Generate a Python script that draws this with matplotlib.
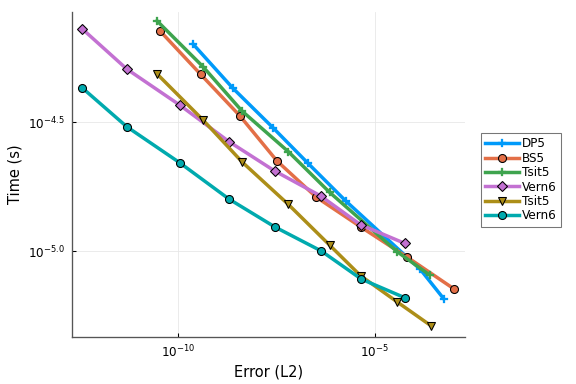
import matplotlib
matplotlib.use("Agg")
import matplotlib.pyplot as plt
import numpy as np
from matplotlib.ticker import FixedLocator, NullLocator

# log10 values
dp5_err = [-9.619, -8.604, -7.589, -6.70, -5.744, -3.848, -3.249]
dp5_time = [-4.196, -4.368, -4.521, -4.659, -4.805, -5.071, -5.186]

bs5_err = [-10.464, -9.424, -8.434, -7.487, -6.487, -5.363, -4.178, -3.003]
bs5_time = [-4.144, -4.314, -4.474, -4.650, -4.791, -4.906, -5.024, -5.146]

tsit5a_err = [-10.533, -9.365, -8.376, -7.198, -6.15, -4.431, -3.612]
tsit5a_time = [-4.106, -4.284, -4.456, -4.614, -4.772, -5.003, -5.093]

vern6a_err = [-12.426, -11.302, -9.957, -8.706, -7.546, -6.378, -5.363, -4.246]
vern6a_time = [-4.138, -4.293, -4.433, -4.575, -4.689, -4.786, -4.898, -4.970]

tsit5b_err = [-10.533, -9.365, -8.366, -7.198, -6.15, -5.363, -4.431, -3.568]
tsit5b_time = [-4.312, -4.491, -4.655, -4.819, -4.977, -5.096, -5.198, -5.291]

vern6b_err = [-12.426, -11.302, -9.957, -8.706, -7.546, -6.360, -5.345, -4.246]
vern6b_time = [-4.367, -4.517, -4.657, -4.798, -4.906, -5.0, -5.109, -5.181]

labels = ["DP5", "BS5", "Tsit5", "Vern6", "Tsit5", "Vern6"]

series = [
    (dp5_err, dp5_time, "#009AFA", "P", False),
    (bs5_err, bs5_time, "#E36F47", "o", True),
    (tsit5a_err, tsit5a_time, "#3EA44E", "P", False),
    (vern6a_err, vern6a_time, "#C371D2", "D", True),
    (tsit5b_err, tsit5b_time, "#AC8E18", "v", True),
    (vern6b_err, vern6b_time, "#00AAAE", "o", True),
]

fig = plt.figure(figsize=(6, 4), dpi=96)
ax = fig.add_axes([0.125, 0.123, 0.682, 0.846])

for (ex, ty, c, m, edge), lab in zip(series, labels):
    x = 10 ** np.array(ex)
    y = 10 ** np.array(ty)
    if m == "P":
        ms = 6
    elif m == "D":
        ms = 5
    else:
        ms = 6
    ax.plot(x, y, color=c, lw=2.6, marker=m, markersize=ms,
            markerfacecolor=c,
            markeredgecolor="black" if edge else c,
            markeredgewidth=0.8 if edge else 0.2,
            label=lab)

ax.set_xscale("log")
ax.set_yscale("log")
ax.set_xlim(10 ** -12.69, 10 ** -2.716)
ax.set_ylim(10 ** -5.333, 10 ** -4.0715)

ax.xaxis.set_major_locator(FixedLocator([1e-10, 1e-5]))
ax.xaxis.set_minor_locator(NullLocator())
ax.set_xticklabels([r"$10^{-10}$", r"$10^{-5}$"])
ax.yaxis.set_major_locator(FixedLocator([10 ** -5.0, 10 ** -4.5]))
ax.yaxis.set_minor_locator(NullLocator())
ax.set_yticklabels([r"$10^{-5.0}$", r"$10^{-4.5}$"])

ax.tick_params(direction="in", length=3, width=0.8, labelsize=9, colors="black", pad=5)
ax.grid(True, color="#e6e6e6", lw=0.6)
for s in ["top", "right"]:
    ax.spines[s].set_visible(False)
for s in ["left", "bottom"]:
    ax.spines[s].set_color("#555555")
    ax.spines[s].set_linewidth(1.0)

ax.set_xlabel("Error (L2)", fontsize=11, labelpad=3)
ax.set_ylabel("Time (s)", fontsize=11, labelpad=4)

leg = ax.legend(loc="upper left", bbox_to_anchor=(1.041, 0.627), fontsize=9,
                frameon=True, fancybox=False, borderpad=0.35, labelspacing=0.12,
                handlelength=2.8, handletextpad=0.3, borderaxespad=0)
leg.get_frame().set_edgecolor("#555555")
leg.get_frame().set_linewidth(0.8)

fig.savefig("out.png", dpi=96)
